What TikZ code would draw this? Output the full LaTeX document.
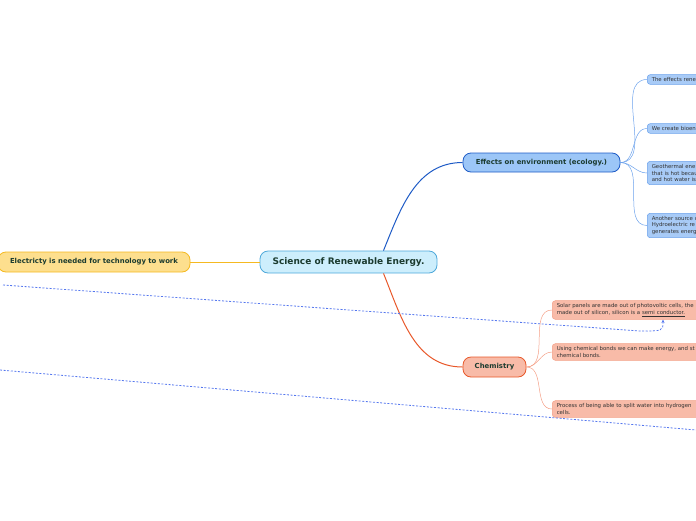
\documentclass[tikz,border=0pt]{standalone}
\usepackage{fontspec}
\setmainfont{DejaVu Sans}
\usetikzlibrary{arrows.meta}

\definecolor{inkgreen}{HTML}{1B3B2F}
\definecolor{subtext}{HTML}{333333}
\definecolor{cenfill}{HTML}{CDEEFC}
\definecolor{cenline}{HTML}{4DA8DA}
\definecolor{yelfill}{HTML}{FDDF8E}
\definecolor{yelline}{HTML}{F5B921}
\definecolor{bluefill}{HTML}{9CC6F7}
\definecolor{blueline}{HTML}{1E5BC6}
\definecolor{bsubfill}{HTML}{A8CBF7}
\definecolor{bsubline}{HTML}{6CA2EC}
\definecolor{orfill}{HTML}{F8BBA8}
\definecolor{orline}{HTML}{E8582A}
\definecolor{osubline}{HTML}{F4A087}
\definecolor{relline}{HTML}{5577EE}

\begin{document}
\begin{tikzpicture}[x=1pt,y=1pt,
  topic/.style={rounded corners=8pt,line width=0.8pt,text=inkgreen,
    font=\fontsize{6.9}{8}\selectfont\bfseries,inner sep=0pt},
  subtopic/.style={rounded corners=3pt,line width=0.5pt,text=subtext,
    font=\fontsize{5.4}{6.8}\selectfont,align=left,anchor=west,
    text width=220pt,inner xsep=4.5pt,inner ysep=2.8pt},
  rel/.style={relline,line width=0.8pt,dash pattern=on 2pt off 1.6pt}]

\useasboundingbox (0,0) rectangle (696,-520);

% Main topics
\node[topic,fill=cenfill,draw=cenline,minimum width=177pt,minimum height=22pt,
  font=\fontsize{9}{10}\selectfont\bfseries] (cen) at (348.5,-262)
  {Science of Renewable Energy.};
\node[topic,fill=yelfill,draw=yelline,minimum width=192pt,minimum height=20pt]
  (elec) at (94,-262) {Electricty is needed for technology to work};
\node[topic,fill=bluefill,draw=blueline,minimum width=157pt,minimum height=19pt]
  (eff) at (541.5,-162.5) {Effects on environment (ecology.)};
\node[topic,fill=orfill,draw=orline,minimum width=63pt,minimum height=20pt]
  (chem) at (494.5,-367) {Chemistry};

% Ecology subtopics
\node[subtopic,fill=bsubfill,draw=bsubline] (eff1) at (647,-79.5)
  {The effects rene};
\node[subtopic,fill=bsubfill,draw=bsubline] (eff2) at (647,-128.5)
  {We create bioen};
\node[subtopic,fill=bsubfill,draw=bsubline] (eff3) at (647,-173)
  {Geothermal ene\\that is hot becau\\and hot water is};
\node[subtopic,fill=bsubfill,draw=bsubline] (eff4) at (647,-225.5)
  {Another source o\\Hydroelectric re\\generates energ};

% Chemistry subtopics
\node[subtopic,fill=orfill,draw=osubline] (chem1) at (552,-310)
  {Solar panels are made out of photovoltic cells, the\\made out of silicon, silicon is a \underline{semi conductor.}};
\node[subtopic,fill=orfill,draw=osubline] (chem2) at (552,-352)
  {Using chemical bonds we can make energy, and st\\chemical bonds.};
\node[subtopic,fill=orfill,draw=osubline] (chem3) at (552,-409)
  {Process of being able to split water into hydrogen\\cells.};

% Branches
\draw[yelline,line width=1pt] (elec.east) -- (cen.west);
\draw[blueline,line width=1pt] ([xshift=35pt]cen.north) to[out=68,in=180] (eff.west);
\draw[orline,line width=1pt] ([xshift=35pt]cen.south) to[out=-68,in=180] (chem.west);
\foreach \n in {eff1,eff2,eff3,eff4}
  \draw[bsubline,line width=0.5pt] (eff.east) to[out=0,in=180] (\n.west);
\foreach \n in {chem1,chem2,chem3}
  \draw[osubline,line width=0.5pt] (chem.east) to[out=0,in=180] (\n.west);

% Relations
\coordinate (relA) at (3,-285);
\coordinate (bendA) at (640,-331);
\coordinate (tipA) at (663,-319.5);
\coordinate (relB) at (0,-370);
\coordinate (endB) at (696,-430);
\draw[rel,-{Stealth[length=3.5pt,width=3pt]}] (relA) -- (bendA)
  .. controls (663,-331) .. (tipA);
\draw[rel] (relB) -- (endB);

\end{tikzpicture}
\end{document}
